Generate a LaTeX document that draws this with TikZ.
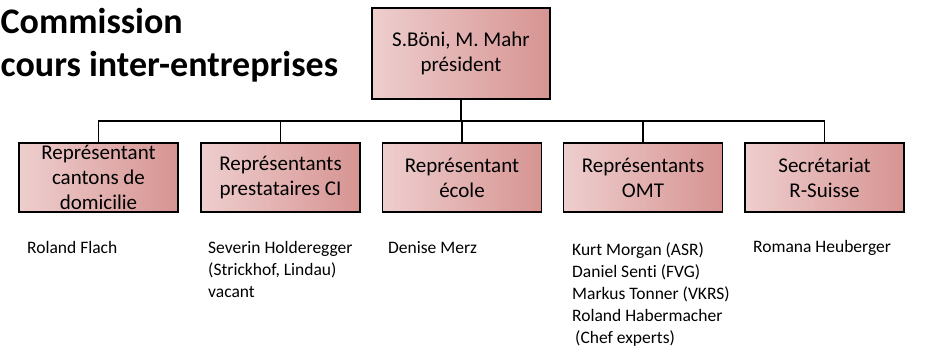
\documentclass[tikz,border=0pt]{standalone}
\usepackage{fontspec}
\setmainfont{Carlito}[Ligatures=NoCommon]
\definecolor{pinkL}{RGB}{238,206,206}
\definecolor{pinkR}{RGB}{214,148,146}
\begin{document}
\begin{tikzpicture}[x=1pt,y=-1pt,
  orgbox/.style={draw=black, line width=1.3pt, left color=pinkL, right color=pinkR,
    minimum width=159pt, minimum height=69pt, inner sep=0pt, align=center,
    font=\fontsize{21}{25}\selectfont},
  topbox/.style={orgbox, minimum width=178pt, minimum height=91pt},
  person/.style={anchor=base west, align=left, inner sep=0pt,
    font=\fontsize{17.5}{22}\selectfont},
  title/.style={anchor=base west, align=left, inner sep=0pt,
    font=\fontsize{36}{43}\selectfont\bfseries},
  link/.style={draw=black, line width=1.3pt}]
\useasboundingbox (0,0) rectangle (925,351);

% multi-line nodes: 'base' is the baseline of the last line
\node[title] (ttl) at (0.5,76) {Commission\\cours inter-entreprises};

\node[topbox] (top) at (461,53.5) {S.Böni, M. Mahr\\président};

\node[orgbox] (b1) at (98.5,177.5) {Représentant\\cantons de\\domicilie};
\node[orgbox] (b2) at (280.5,177.5) {Représentants\\prestataires CI};
\node[orgbox] (b3) at (462,177.5) {Représentant\\école};
\node[orgbox] (b4) at (643,177.5) {Représentants\\OMT};
\node[orgbox] (b5) at (824.5,177.5) {Secrétariat\\R-Suisse};

\coordinate (bus) at (top.south |- 0,121);
\draw[link] (top.south) -- (bus);
\foreach \b in {b1,b2,b3,b4,b5}{
  \draw[link] (\b.north) |- (bus);
}

\node[person] (p1) at (27,253) {Roland Flach};
\node[person] (p2) at (208,297) {Severin Holderegger\\(Strickhof, Lindau)\\vacant};
\node[person] (p3) at (388,253) {Denise Merz};
\node[person] (p4) at (572,343) {Kurt Morgan (ASR)\\Daniel Senti (FVG)\\Markus Tonner (VKRS)\\Roland Habermacher\\\hspace*{3pt}(Chef experts)};
\node[person] (p5) at (753,252) {Romana Heuberger};
\end{tikzpicture}
\end{document}
